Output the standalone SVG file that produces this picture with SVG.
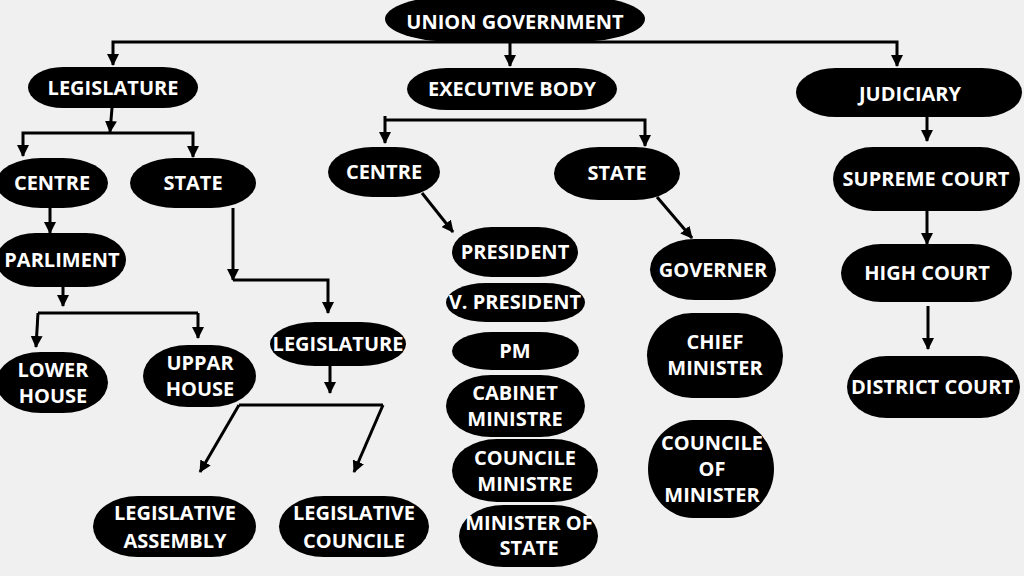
<svg xmlns="http://www.w3.org/2000/svg" width="1024" height="576" viewBox="0 0 1024 576">
<defs>
<marker id="ah" markerUnits="userSpaceOnUse" markerWidth="12" markerHeight="12" refX="11" refY="6" orient="auto"><path d="M0,0 L12,6 L0,12 z" fill="#000"/></marker>
<style>
.n{fill:#000}
.t{fill:#fff;font-family:"Open Sans","Liberation Sans",sans-serif;font-weight:700;font-size:20px;text-anchor:middle}
.c{fill:none;stroke:#000;stroke-width:3;marker-end:url(#ah)}
.l{fill:none;stroke:#000;stroke-width:3}
</style>
</defs>
<rect width="1024" height="576" fill="#f0f0f0"/>
<g id="connectors">
<path class="c" d="M510,42 H113 V65"/>
<path class="c" d="M510,42 H897 V66"/>
<path class="c" d="M510,42 V66"/>
<path class="c" d="M112,108 L110,132"/>
<path class="c" d="M110,133 H23 V156"/>
<path class="c" d="M110,133 H193 V157"/>
<path class="c" d="M385,116 V143"/>
<path class="c" d="M385,120 H645 V146"/>
<path class="c" d="M927,117 V141"/>
<path class="c" d="M50,208 V233"/>
<path class="c" d="M63,287 V306"/>
<path class="l" d="M38,313 H198"/>
<path class="c" d="M38,313 L36,347"/>
<path class="c" d="M198,313 V338"/>
<path class="c" d="M233,208 V280"/>
<path class="c" d="M233,280 H328 V313"/>
<path class="c" d="M330,366 V393"/>
<path class="l" d="M239,405 H383"/>
<path class="c" d="M239,405 L200,472"/>
<path class="c" d="M383,405 L354,472"/>
<path class="c" d="M422,193 L453,232"/>
<path class="c" d="M657,197 L692,238"/>
<path class="c" d="M927,211 V244"/>
<path class="c" d="M928,306 V349"/>
</g>
<g id="union"><rect class="n" x="385" y="-4" width="260" height="46" rx="70" ry="23"/><text class="t" x="515" y="29" font-size="21.5">UNION GOVERNMENT</text></g>
<g id="legislature"><rect class="n" x="28" y="67" width="170" height="41" rx="35" ry="20.5"/><text class="t" x="113" y="95">LEGISLATURE</text></g>
<g id="executive"><rect class="n" x="407" y="68" width="210" height="42" rx="40" ry="21"/><text class="t" x="512" y="96">EXECUTIVE BODY</text></g>
<g id="judiciary"><rect class="n" x="796" y="68" width="226" height="49" rx="40" ry="24.5"/><text class="t" x="910" y="101" font-size="24">JUDICIARY</text></g>
<g id="leg-centre"><rect class="n" x="-4" y="158" width="112" height="50" rx="45" ry="25"/><text class="t" x="52" y="190">CENTRE</text></g>
<g id="leg-state"><rect class="n" x="130" y="158" width="126" height="50" rx="45" ry="25"/><text class="t" x="193" y="190">STATE</text></g>
<g id="exec-centre"><rect class="n" x="328" y="147" width="112" height="50" rx="45" ry="25"/><text class="t" x="384" y="179">CENTRE</text></g>
<g id="exec-state"><rect class="n" x="554" y="147" width="126" height="53" rx="45" ry="26.5"/><text class="t" x="617" y="180">STATE</text></g>
<g id="supreme"><rect class="n" x="833" y="147" width="187" height="64" rx="40" ry="32"/><text class="t" x="926" y="186">SUPREME COURT</text></g>
<g id="parliment"><rect class="n" x="-4" y="233" width="130" height="54" rx="40" ry="27"/><text class="t" x="62" y="267">PARLIMENT</text></g>
<g id="lower"><rect class="n" x="-4" y="352" width="112" height="61" rx="45" ry="30.5"/><text class="t" x="53" y="377">LOWER</text><text class="t" x="53" y="403">HOUSE</text></g>
<g id="uppar"><rect class="n" x="143" y="345" width="113" height="62" rx="45" ry="31"/><text class="t" x="200" y="370">UPPAR</text><text class="t" x="200" y="396">HOUSE</text></g>
<g id="state-legislature"><rect class="n" x="270" y="322" width="136" height="44" rx="45" ry="22"/><text class="t" x="338" y="351">LEGISLATURE</text></g>
<g id="assembly"><rect class="n" x="93" y="496" width="163" height="61" rx="45" ry="30.5"/><text class="t" x="175" y="520">LEGISLATIVE</text><text class="t" x="175" y="548">ASSEMBLY</text></g>
<g id="council"><rect class="n" x="279" y="496" width="150" height="61" rx="45" ry="30.5"/><text class="t" x="354" y="520">LEGISLATIVE</text><text class="t" x="354" y="548">COUNCILE</text></g>
<g id="president"><rect class="n" x="452" y="227" width="126" height="50" rx="40" ry="25"/><text class="t" x="515" y="259">PRESIDENT</text></g>
<g id="vpresident"><rect class="n" x="446" y="283" width="139" height="39" rx="40" ry="19.5"/><text class="t" x="515" y="309">V. PRESIDENT</text></g>
<g id="pm"><rect class="n" x="452" y="332" width="127" height="38" rx="40" ry="19"/><text class="t" x="515" y="358">PM</text></g>
<g id="cabinet"><rect class="n" x="446" y="375" width="139" height="62" rx="45" ry="31"/><text class="t" x="515" y="400">CABINET</text><text class="t" x="515" y="426">MINISTRE</text></g>
<g id="councile-ministre"><rect class="n" x="452" y="439" width="146" height="63" rx="45" ry="31.5"/><text class="t" x="525" y="465">COUNCILE</text><text class="t" x="525" y="491">MINISTRE</text></g>
<g id="minister-state"><rect class="n" x="459" y="505" width="139" height="62" rx="45" ry="31"/><text class="t" x="529" y="530">MINISTER OF</text><text class="t" x="529" y="555">STATE</text></g>
<g id="governer"><rect class="n" x="650" y="239" width="126" height="61" rx="45" ry="30.5"/><text class="t" x="713" y="277">GOVERNER</text></g>
<g id="chief"><rect class="n" x="647" y="313" width="136" height="85" rx="45" ry="42.5"/><text class="t" x="715" y="349">CHIEF</text><text class="t" x="715" y="375">MINISTER</text></g>
<g id="council-minister"><rect class="n" x="648" y="420" width="126" height="98" rx="45" ry="49"/><text class="t" x="712" y="450">COUNCILE</text><text class="t" x="712" y="476">OF</text><text class="t" x="712" y="502">MINISTER</text></g>
<g id="high"><rect class="n" x="841" y="244" width="171" height="58" rx="40" ry="29"/><text class="t" x="927" y="280">HIGH COURT</text></g>
<g id="district"><rect class="n" x="847" y="356" width="173" height="62" rx="40" ry="31"/><text class="t" x="932" y="394">DISTRICT COURT</text></g>
</svg>
